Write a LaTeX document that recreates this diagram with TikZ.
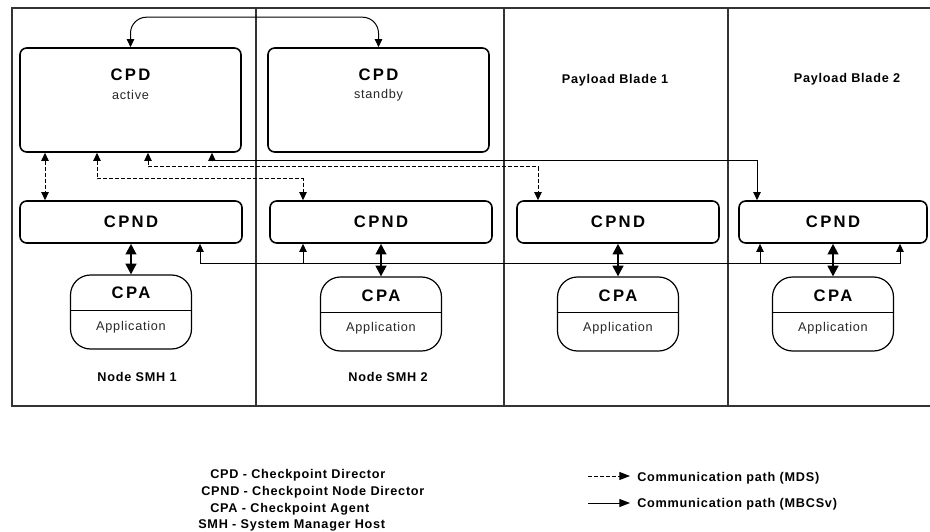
\documentclass[tikz,border=0pt]{standalone}
\usepackage{fontspec}
\setmainfont{Liberation Sans}[LetterSpace=6]
\newfontfamily\widefont{Liberation Sans}[LetterSpace=14]
\usetikzlibrary{arrows.meta}

\tikzset{
  frameline/.style={line width=0.8pt, black!80},
  cpdbox/.style={draw, line width=1.2pt, rounded corners=5pt,
    minimum width=165.75pt, minimum height=78pt},
  cpndbox/.style={draw, line width=1.2pt, rounded corners=5pt, minimum height=31.5pt,
    font=\widefont\bfseries\fontsize{12.5}{14}\selectfont},
  cpabox/.style={draw, line width=0.9pt, rounded corners=15pt,
    minimum width=90.75pt, minimum height=55.5pt},
  bigtxt/.style={inner sep=0pt, font=\widefont\bfseries\fontsize{12.5}{14}\selectfont},
  subtxt/.style={inner sep=0pt, text=black!85, font=\fontsize{9.5}{11}\selectfont},
  bladetxt/.style={inner sep=0pt, font=\bfseries\fontsize{9.5}{11}\selectfont},
  keytxt/.style={inner sep=0pt, anchor=base west, font=\bfseries\fontsize{9.5}{11}\selectfont},
  mds/.style={line width=0.75pt, dash pattern=on 3pt off 1.5pt, {Triangle[width=5.5pt,length=6pt]}-{Triangle[width=5.5pt,length=6pt]}},
  mbcsv/.style={line width=0.75pt, {Triangle[width=5.5pt,length=6pt]}-{Triangle[width=5.5pt,length=6pt]}},
  tee/.style={line width=0.75pt, -{Triangle[width=5.5pt,length=6pt]}},
  cpalink/.style={line width=1.6pt, {Triangle[width=8pt,length=8pt]}-{Triangle[width=8pt,length=8pt]}}
}

\begin{document}
\begin{tikzpicture}[x=0.75pt, y=-0.75pt]
  \useasboundingbox (0,0) rectangle (930,531);

  % Frame and blade dividers
  \draw[frameline] (930,8) -- (12,8) -- (12,406) -- (930,406);
  \draw[frameline] (256,8) -- (256,406);
  \draw[frameline] (504,8) -- (504,406);
  \draw[frameline] (728,8) -- (728,406);

  % Checkpoint directors
  \node[cpdbox] (cpdA) at (130.5,100) {};
  \node[bigtxt] (cpdAt) at (130.5,75) {CPD};
  \node[subtxt] (cpdAs) at (130.5,95) {active};
  \node[cpdbox] (cpdS) at (378.5,100) {};
  \node[bigtxt] (cpdSt) at (378.5,75) {CPD};
  \node[subtxt] (cpdSs) at (378.5,95) {standby};

  \node[bladetxt] (pb1) at (615,80) {Payload Blade 1};
  \node[bladetxt] (pb2) at (847,79) {Payload Blade 2};

  % Node directors
  \node[cpndbox, minimum width=166.5pt] (cpndS1) at (131,222) {CPND};
  \node[cpndbox, minimum width=166.5pt] (cpndS2) at (381,222) {CPND};
  \node[cpndbox, minimum width=151.5pt] (cpndP1) at (618,222) {CPND};
  \node[cpndbox, minimum width=141pt] (cpndP2) at (833,222) {CPND};

  % Agents
  \node[cpabox] (cpaS1) at (131,312) {};
  \node[cpabox] (cpaS2) at (381,314) {};
  \node[cpabox] (cpaP1) at (618,314) {};
  \node[cpabox] (cpaP2) at (833,314) {};
  \draw[line width=0.6pt] ([yshift=1.5pt]cpaS1.west) -- ([yshift=1.5pt]cpaS1.east);
  \draw[line width=0.6pt] ([yshift=1.5pt]cpaS2.west) -- ([yshift=1.5pt]cpaS2.east);
  \draw[line width=0.6pt] ([yshift=1.5pt]cpaP1.west) -- ([yshift=1.5pt]cpaP1.east);
  \draw[line width=0.6pt] ([yshift=1.5pt]cpaP2.west) -- ([yshift=1.5pt]cpaP2.east);
  \node[bigtxt] (cpaS1t) at (131,293) {CPA};
  \node[subtxt] (cpaS1a) at (131,327) {Application};
  \node[bigtxt] (cpaS2t) at (381,296) {CPA};
  \node[subtxt] (cpaS2a) at (381,328) {Application};
  \node[bigtxt] (cpaP1t) at (618,296) {CPA};
  \node[subtxt] (cpaP1a) at (618,328) {Application};
  \node[bigtxt] (cpaP2t) at (833,296) {CPA};
  \node[subtxt] (cpaP2a) at (833,328) {Application};

  \node[bladetxt] (smh1) at (137,377) {Node SMH 1};
  \node[bladetxt] (smh2) at (388,377) {Node SMH 2};

  % CPND - CPA links
  \draw[cpalink] (cpndS1.south) -- (cpaS1.north);
  \draw[cpalink] (cpndS2.south) -- (cpaS2.north);
  \draw[cpalink] (cpndP1.south) -- (cpaP1.north);
  \draw[cpalink] (cpndP2.south) -- (cpaP2.north);

  % CPD active - CPD standby
  \draw[mbcsv, rounded corners=12pt] (cpdA.north) -- ++(0,-30) -| (cpdS.north);

  % MDS paths
  \draw[mds] ([shift={(-85.5,0)}]cpdA.south) coordinate (d1) -- (d1 |- cpndS1.north);
  \draw[mds] ([shift={(-33.5,0)}]cpdA.south) -- ++(0,26) -| ([shift={(-78,0)}]cpndS2.north);
  \draw[mds] ([shift={(17.5,0)}]cpdA.south) -- ++(0,14) -| ([shift={(-80,0)}]cpndP1.north);

  % MBCSv paths
  \draw[mbcsv] ([shift={(81.5,0)}]cpdA.south) -- ++(0,8) -| ([shift={(-76,0)}]cpndP2.north);
  \draw[mbcsv] ([shift={(69,0)}]cpndS1.south) -- ++(0,20) -| ([shift={(67,0)}]cpndP2.south);
  \draw[tee] ([shift={(-78,20)}]cpndS2.south) -- ([shift={(-78,0)}]cpndS2.south);
  \draw[tee] ([shift={(-73,20)}]cpndP2.south) -- ([shift={(-73,0)}]cpndP2.south);

  % Legend
  \node[keytxt] (keyCPD) at (210,478) {CPD - Checkpoint Director};
  \node[keytxt] (keyCPND) at (201,495) {CPND - Checkpoint Node Director};
  \node[keytxt] (keyCPA) at (210,512) {CPA - Checkpoint Agent};
  \node[keytxt] (keySMH) at (198,528) {SMH - System Manager Host};

  \coordinate (mdsS) at (588,476);
  \node[keytxt, inner xsep=5.25pt] (keyMDS) at (630,481) {Communication path (MDS)};
  \draw[line width=0.75pt, dash pattern=on 3pt off 1.5pt, -{Triangle[width=6pt,length=8pt]}] (mdsS) -- (mdsS -| keyMDS.west);
  \coordinate (mbcS) at (588,503);
  \node[keytxt, inner xsep=5.25pt] (keyMBC) at (630,507) {Communication path (MBCSv)};
  \draw[line width=0.75pt, -{Triangle[width=6pt,length=8pt]}] (mbcS) -- (mbcS -| keyMBC.west);
\end{tikzpicture}
\end{document}
